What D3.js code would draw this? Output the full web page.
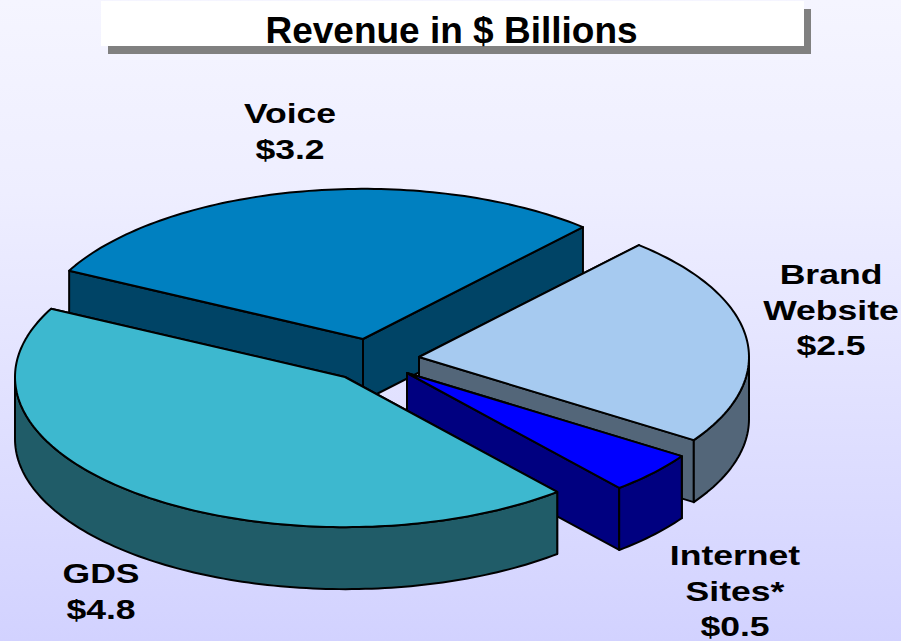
<!DOCTYPE html>
<html>
<head>
<meta charset="utf-8">
<script src="https://cdn.jsdelivr.net/npm/d3@7/dist/d3.min.js"></script>
<style>html,body{margin:0;padding:0;overflow:hidden}svg{display:block}</style>
</head>
<body>
<script>
// ---- data ----
const categories = ["Brand Website", "Internet Sites*", "GDS", "Voice"];
const revenue = [2.5, 0.5, 4.8, 3.2];
const labelLines = [["Brand", "Website", "$2.5"], ["Internet", "Sites*", "$0.5"], ["GDS", "$4.8"], ["Voice", "$3.2"]];
const titleText = "Revenue in $ Billions";

// ---- styles & layout ----
const W = 901, H = 641;
const topColors = ["#a6caf0", "#0000ff", "#3db8cf", "#0080c0"];
const wallColors = ["#536679", "#000080", "#205c68", "#004466"];
const apexes = [[419, 357], [407, 373], [345, 377], [363, 339]];
const labelPos = [[831, 284], [735, 565], [101, 583], [290, 123]];
const RX = 330, TILT = 0.455, DEPTH = 62, START = 41.8 * Math.PI / 180;
const drawOrder = [3, 0, 1, 2];

const svg = d3.select("body").append("svg").attr("width", W).attr("height", H);
const defs = svg.append("defs");
const grad = defs.append("linearGradient").attr("id", "bg").attr("x1", 0).attr("x2", 0).attr("y1", 0).attr("y2", 1);
grad.append("stop").attr("offset", 0).attr("stop-color", "#f5f5ff");
grad.append("stop").attr("offset", 0.3).attr("stop-color", "#eeeeff");
grad.append("stop").attr("offset", 1).attr("stop-color", "#d2d2ff");
svg.append("rect").attr("width", W).attr("height", H).attr("fill", "url(#bg)");

// title panel
svg.append("rect").attr("x", 108).attr("y", 9).attr("width", 703).attr("height", 45).attr("fill", "#808080");
svg.append("rect").attr("x", 101).attr("y", 1).attr("width", 703).attr("height", 45).attr("fill", "#ffffff");
svg.append("text").attr("x", 451.5).attr("y", 43).attr("text-anchor", "middle")
  .attr("font-family", "Liberation Sans").attr("font-weight", "bold").attr("font-size", 37)
  .attr("fill", "#000").text(titleText);

// pie
const pie = d3.pie().sort(null).value(d => d)
  .startAngle(START).endAngle(START + 2 * Math.PI);
const arcs = pie(revenue);

const line = d3.line();
const pt = (c, a, dz = 0) => [c[0] + RX * Math.sin(a), c[1] - RX * TILT * Math.cos(a) + dz];
const sample = (a0, a1) => {
  const n = Math.max(2, Math.ceil((a1 - a0) / 0.02));
  return d3.range(n + 1).map(i => a0 + (a1 - a0) * i / n);
};
const g = svg.append("g").attr("stroke", "#000").attr("stroke-width", 2).attr("stroke-linejoin", "round");

drawOrder.forEach(i => {
  const d = arcs[i], c = apexes[i], a0 = d.startAngle, a1 = d.endAngle;
  const sl = g.append("g");
  const cb = [c[0], c[1] + DEPTH];
  // cut faces
  [a0, a1].forEach(a => {
    sl.append("path").attr("fill", wallColors[i])
      .attr("d", line([c, pt(c, a), pt(c, a, DEPTH), cb]) + "Z");
  });
  // outer wall: only the part that faces the viewer
  const from = Math.max(a0, Math.PI / 2), to = Math.min(a1, 3 * Math.PI / 2);
  if (to > from) {
    const as = sample(from, to);
    sl.append("path").attr("fill", wallColors[i])
      .attr("d", line(as.map(a => pt(c, a)).concat(as.slice().reverse().map(a => pt(c, a, DEPTH)))) + "Z");
  }
  // top face
  sl.append("path").attr("fill", topColors[i])
    .attr("d", line([c].concat(sample(a0, a1).map(a => pt(c, a)))) + "Z");
});

// labels
labelLines.forEach((ls, i) => {
  ls.forEach((t, j) => {
    svg.append("text")
      .attr("transform", `translate(${labelPos[i][0]},${labelPos[i][1] + j * 35.5}) scale(1.27,1)`)
      .attr("text-anchor", "middle").attr("font-family", "Liberation Sans")
      .attr("font-weight", "bold").attr("font-size", 28).attr("fill", "#000").text(t);
  });
});
</script>
</body>
</html>
